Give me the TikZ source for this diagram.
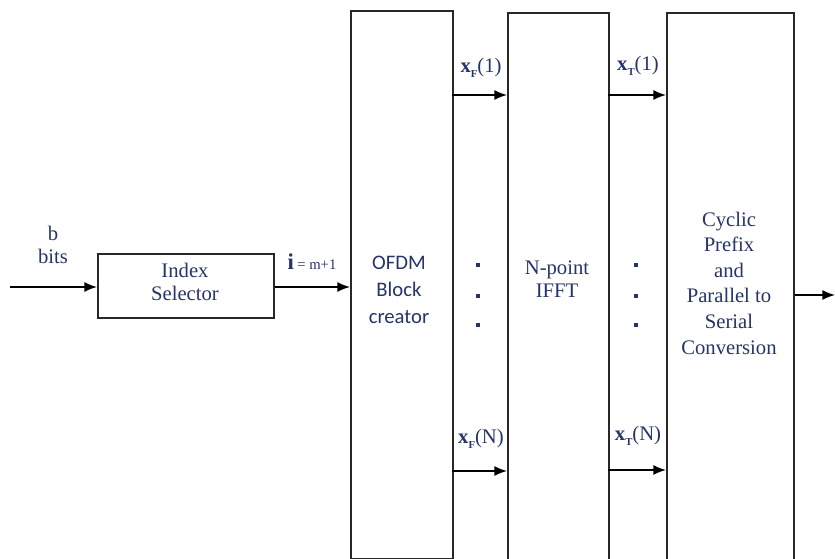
\documentclass[tikz,border=0pt]{standalone}
\usepackage{fontspec}
\setmainfont{Liberation Serif}
\newfontfamily\tnr{Liberation Serif}
\newfontfamily\calib{Carlito}
\usetikzlibrary{arrows.meta}
\definecolor{txt}{RGB}{38,52,104}
\definecolor{edge}{RGB}{40,40,40}
\tikzset{
  blk/.style={draw=edge, line width=1.4pt, fill=white, inner sep=0pt, anchor=north west},
  lbl/.style={text=txt, font=\tnr\fontsize{15.5}{17.5}\selectfont, align=center, inner sep=0pt},
  arr/.style={draw=black, line width=1.1pt, -{Latex[length=9.5pt,width=7.5pt]}},
  dotc/.style={rectangle, fill=txt, inner sep=0pt, minimum size=3.2pt}
}
\newcommand{\vecx}[2]{{\bfseries x}\raisebox{-0.45ex}{\fontsize{8}{8}\selectfont\bfseries #1}(#2)}
\begin{document}
\begin{tikzpicture}[x=0.75pt,y=-0.75pt]
\clip (0,0) rectangle (835,559);
\fill[white] (0,0) rectangle (835,559);
% blocks
\node[blk, minimum width=176*0.75pt, minimum height=64*0.75pt] (is) at (97,253) {};
\node[blk, minimum width=102*0.75pt, minimum height=548*0.75pt] (ofdm) at (350,10) {};
\node[blk, minimum width=101*0.75pt, minimum height=570*0.75pt] (ifft) at (507,12) {};
\node[blk, minimum width=127*0.75pt, minimum height=570*0.75pt] (cp) at (666,12) {};
% block texts
\node[lbl] (ist) at (185,282) {Index\\Selector};
\node[lbl, font=\calib\fontsize{15.5}{20}\selectfont] (ofdmt) at (399,290) {OFDM\\Block\\creator};
\node[lbl] (ifftt) at (557,279) {N-point\\IFFT};
\node[lbl, font=\tnr\fontsize{15.5}{19.2}\selectfont] (cpt) at (729,283) {Cyclic\\Prefix\\and\\Parallel to\\Serial\\Conversion};
% coordinates
\coordinate (in) at (10,287);
\coordinate (out) at (835,295);
\coordinate (f1) at (452,95);
\coordinate (t1) at (608,95);
\coordinate (fN) at (452,471);
\coordinate (tN) at (608,470);
% arrows
\draw[arr] (in) -- (is.west |- in);
\draw[arr] (is.east |- in) -- (ofdm.west |- in);
\draw[arr] (f1) -- (ifft.west |- f1);
\draw[arr] (t1) -- (cp.west |- t1);
\draw[arr] (fN) -- (ifft.west |- fN);
\draw[arr] (tN) -- (cp.west |- tN);
\draw[arr] (cp.east |- out) -- (out);
% labels
\node[lbl] (b) at (53,233) {b};
\node[lbl] (bits) at (53,256) {bits};
\node[lbl] (idx) at (312,262) {{\fontsize{17}{17}\selectfont\bfseries i}\,{\fontsize{11}{11}\selectfont = m+1}};
\node[lbl] (lf1) at (481,68) {\vecx{F}{1}};
\node[lbl] (lt1) at (638,66) {\vecx{T}{1}};
\node[lbl] (lfN) at (481,439) {\vecx{F}{N}};
\node[lbl] (ltN) at (638,436) {\vecx{T}{N}};
% dots
\foreach \y/\n in {265/a,296/b,325/c}{
  \node[dotc] (d1\n) at (478,\y) {};
  \node[dotc] (d2\n) at (636,\y) {};
}
\end{tikzpicture}
\end{document}
